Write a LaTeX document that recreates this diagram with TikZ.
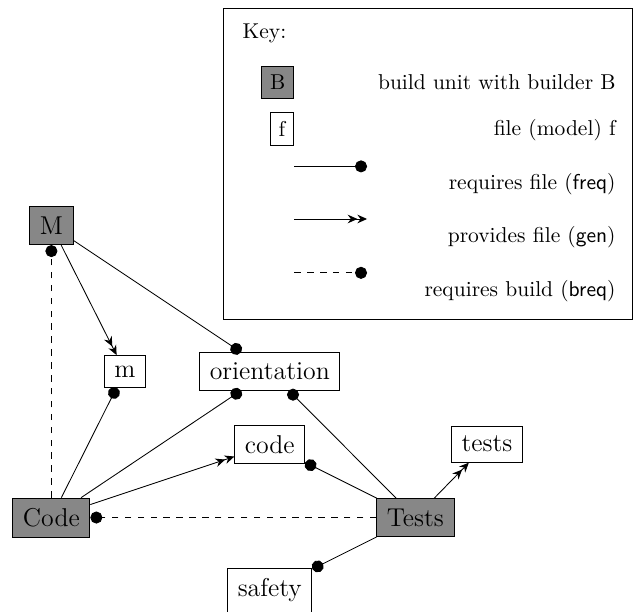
\documentclass[tikz,border=0pt]{standalone}
\usepackage{tikz}
\usetikzlibrary{arrows.meta}
\tikzset{build/.style={draw=black, fill=black!47, inner sep=4.7pt, font=\large}}
\tikzset{file/.style={draw=black, fill=white, inner sep=4.7pt, font=\large}}
\tikzset{keytext/.style={inner sep=0pt, anchor=east}}
\tikzset{freq/.style={-{Circle[length=5.6pt]}}}
\tikzset{gen/.style={-{Stealth[length=4.5pt,width=4pt,inset=1.5pt]Stealth[length=4.5pt,width=4pt,inset=1.5pt]}}}
\tikzset{breq/.style={dashed,-{Circle[length=5.6pt]}}}

\begin{document}
\begin{tikzpicture}
    \useasboundingbox (0,0) rectangle (10.38,9.99);

    % key
    \draw (3.66,4.77) rectangle (10.33,9.86);
    \node[inner sep=0pt, anchor=west] (key) at (3.96,9.45) {Key:};
    \node[build, font=\normalsize, inner sep=4pt, anchor=east] (kB) at (4.81,8.64) {B};
    \node[file, font=\normalsize, inner sep=4pt, anchor=east] (kf) at (4.81,7.88) {f};
    \node[keytext] (kBtext) at (10.07,8.64) {build unit with builder B};
    \node[keytext] (kftext) at (10.07,7.87) {file (model) f};
    \coordinate (kfreqA) at (4.81,7.27);
    \coordinate (kfreqB) at (6.00,7.27);
    \coordinate (kgenA) at (4.81,6.41);
    \coordinate (kgenB) at (6.00,6.41);
    \coordinate (kbreqA) at (4.81,5.53);
    \coordinate (kbreqB) at (6.00,5.53);
    \draw[freq] (kfreqA) -- (kfreqB);
    \draw[gen] (kgenA) -- (kgenB);
    \draw[breq] (kbreqA) -- (kbreqB);
    \node[keytext] (kfreqtext) at (10.07,6.98) {requires file (\textsf{freq})};
    \node[keytext] (kgentext) at (10.07,6.11) {provides file (\textsf{gen})};
    \node[keytext] (kbreqtext) at (10.07,5.23) {requires build (\textsf{breq})};

    % units and files
    \node[build] (M) at (0.84,6.30) {M};
    \node[build] (Code) at (0.84,1.53) {Code};
    \node[build] (Tests) at (6.79,1.53) {Tests};
    \node[file] (m) at (2.04,3.92) {m};
    \node[file] (orientation) at (4.41,3.92) {orientation};
    \node[file] (code) at (4.41,2.72) {code};
    \node[file] (tests) at (7.96,2.73) {tests};
    \node[file] (safety) at (4.41,0.34) {safety};

    \draw[gen] (M) -- (m);
    \draw[freq] (M) -- (orientation);
    \draw[breq] (Code) -- (M);
    \draw[freq] (Code) -- (m);
    \draw[freq] (Code) -- (orientation);
    \draw[gen] (Code) -- (code);
    \draw[breq] (Tests) -- (Code);
    \draw[freq] (Tests) -- (orientation);
    \draw[freq] (Tests) -- (code);
    \draw[freq] (Tests) -- (safety);
    \draw[gen] (Tests) -- (tests);
\end{tikzpicture}
\end{document}
